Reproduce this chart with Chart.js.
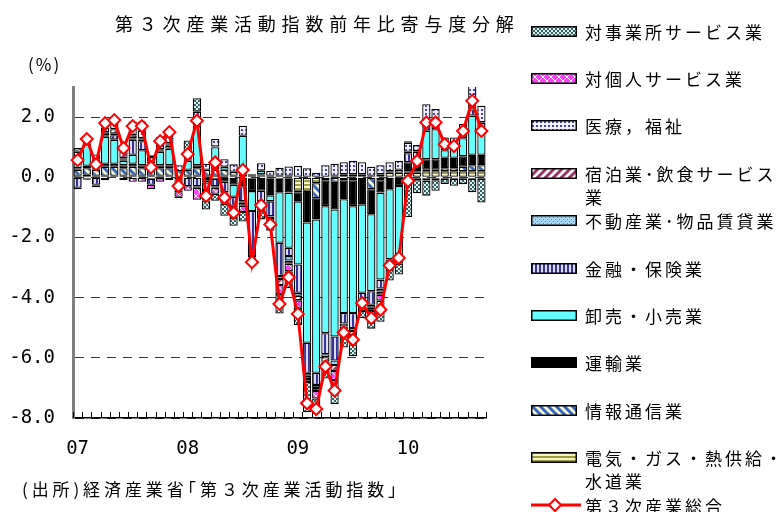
<!DOCTYPE html>
<html lang="ja">
<head>
<meta charset="utf-8">
<script src="https://cdn.jsdelivr.net/npm/chart.js@4.4.1/dist/chart.umd.min.js"></script>
<style>
  html, body { margin: 0; padding: 0; background: #fff; }
  #wrap { position: relative; width: 776px; height: 512px; overflow: hidden; font-family: "Noto Sans CJK JP", sans-serif; color: #000; }
  #chart { position: absolute; left: 0; top: 0; }
  .txt { position: absolute; white-space: nowrap; line-height: 20px; }
  #title { left: 115px; top: 13px; font-size: 18px; letter-spacing: 5.8px; }
  #unit { left: 28px; top: 54px; font-size: 17px; letter-spacing: 2px; }
  #source { left: 22px; top: 479px; font-size: 17px; letter-spacing: 3.9px; }
  .lg { position: absolute; left: 531px; width: 245px; height: 1px; }
  .lg canvas { position: absolute; left: 0; }
  .lg span { position: absolute; left: 54px; font-size: 17px; letter-spacing: 3px; line-height: 23px; white-space: pre; }
</style>
</head>
<body>
<div id="wrap">
  <canvas id="chart" width="776" height="512"></canvas>
  <div id="title" class="txt">第３次産業活動指数前年比寄与度分解</div>
  <div id="unit" class="txt">(%)</div>
  <div id="source" class="txt">(出所)経済産業省｢第３次産業活動指数｣</div>
  <div id="legend"></div>
</div>
<script>
// months 2007-01 .. 2010-09
var months = [];
for (var yr = 2007; yr <= 2010; yr++) {
  for (var mo = 1; mo <= 12; mo++) {
    if (yr === 2010 && mo > 9) break;
    months.push(yr + '-' + (mo < 10 ? '0' + mo : mo));
  }
}
var yearLabels = ['07', '08', '09', '10'];

// contributions (% points)
var elec  = [0.05,0.08,0.05,0.05,0.05,0.05,0.05,0.05,0.05,0.05,0.05,0,
             0.05,0.05,0.05,0.05,0.05,0.05,0.08,0.05,0.05,0.05,0.05,0.05,
             -0.45,-0.45,-0.2,0,0.05,0.1,0.1,0.1,0.05,0.1,0.15,0.15,
             0.15,0.15,0.2,0.2,0.2,0.2,0.2,0.2,0.2];
var info  = [0.2,0.22,0.2,0.3,0.3,0.25,0.3,0.25,0.2,0.25,0.25,0.2,
             0.2,0.25,0.2,0.2,0.2,0.13,0.18,-0.05,0.05,-0.05,-0.05,-0.05,
             -0.05,0,-0.5,-0.1,-0.15,-0.1,-0.1,0,-0.4,-0.1,0.05,0.1,
             0.05,0.05,0.05,0.05,0.1,0.1,0.15,0.2,0.2];
var trans = [0.05,0.08,0.05,0.1,0.1,0.1,0.1,0.1,-0.05,0.1,0.1,0,
             0,0.1,-0.1,-0.05,-0.15,-0.25,-0.3,-0.41,-0.45,-0.55,-0.45,-0.46,
             -0.3,-1.05,-0.7,-0.86,-0.92,-0.63,-0.86,-0.9,-0.83,-0.41,-0.4,-0.29,
             0.3,0.35,0.35,0.35,0.35,0.35,0.35,0.35,0.35];
var whole = [0.35,0.75,0.28,0.9,0.8,0.15,0.3,0.5,0.2,0.45,0.55,-0.2,
             0.3,1.3,-0.07,0.75,0.1,-0.4,1.12,-0.66,0.12,-0.2,-1.68,-1.83,
             -2.1,-4.0,-5.1,-4.22,-4.22,-3.78,-3.55,-2.94,-2.56,-2.89,-2.33,-2.33,
             -0.1,0.1,0.95,1.0,0.25,0.35,0.6,1.3,0.9];
var fin   = [-0.35,-0.05,-0.25,-0.1,0.15,0.05,0.5,0.3,-0.2,0,0.1,-0.25,
             -0.3,-0.3,-0.25,-0.25,-0.35,-0.3,-0.5,-1.5,-0.35,-0.5,-1.1,-0.28,
             -0.94,-1.0,-0.4,-0.7,-0.8,-0.35,-0.5,-0.3,-0.45,-0.3,-0.15,-0.05,
             0.3,0.2,0.15,0.15,0.15,0.1,0.15,0.2,0.15];
var real  = [0.05,0.05,0.03,0.05,0.05,0.03,0.05,0.05,0.02,0.03,0.03,0,
             0.03,0.03,0,0.02,-0.03,-0.05,-0.05,-0.05,-0.05,-0.05,-0.1,-0.15,
             -0.1,-0.1,-0.1,-0.1,-0.15,-0.1,-0.1,-0.05,-0.1,-0.1,-0.05,-0.05,
             0.05,0.02,0.03,0.02,0.02,0.02,0.02,0.04,0.03];
var hotel = [-0.05,0,-0.03,0.1,0.15,0.3,0.1,0.05,0.05,0.05,0.05,-0.05,
             0,-0.05,-0.1,-0.05,-0.1,-0.1,-0.1,-0.05,-0.1,-0.1,-0.2,-0.1,
             -0.15,-0.1,-0.1,-0.15,-0.2,-0.1,-0.14,-0.1,-0.1,-0.1,-0.05,-0.05,
             0,-0.05,-0.05,-0.05,-0.05,-0.05,-0.05,-0.05,-0.05];
var med   = [0.15,0.12,0.15,0.15,0.2,0.15,0.2,0.25,0.15,0.2,0.2,0.2,
             0.25,0.45,0.2,0.25,0.25,0.25,0.33,0.05,0.25,0.16,0.27,0.31,
             0.38,0.3,0.15,0.4,0.4,0.4,0.45,0.4,0.3,0.3,0.3,0.3,
             0.3,0.2,0.7,0.5,0.25,0.2,0.3,0.75,0.55];
var pers  = [0,0.05,-0.05,0,0,-0.1,-0.15,-0.15,-0.15,-0.15,-0.1,-0.15,
             -0.15,-0.4,-0.25,-0.2,-0.25,-0.25,-0.2,-0.1,-0.15,-0.1,-0.3,-0.25,
             -0.25,-0.1,-0.25,-0.2,-0.3,-0.2,-0.3,-0.15,-0.2,-0.2,-0.1,-0.1,
             0.05,-0.05,-0.06,-0.05,0,0,0,0,0];
var biz   = [0.12,-0.03,0,0.25,0.1,0,0.25,0.3,0.06,0.22,0.27,-0.04,
             0.39,0.45,-0.3,-0.23,-0.4,-0.26,-0.32,-0.1,-0.3,-0.23,-0.65,-0.56,
             -0.58,-1.01,-0.5,-0.36,-0.8,-0.4,-0.4,-0.24,-0.39,-0.7,-0.35,-0.36,
             -1.22,-0.43,-0.5,-0.35,-0.17,-0.23,-0.18,-0.45,-0.79];
var total = [0.57,1.27,0.43,1.8,1.9,0.97,1.7,1.7,0.33,1.2,1.5,-0.29,
             0.77,1.88,-0.62,0.49,-0.68,-1.18,0.24,-2.82,-0.93,-1.57,-4.21,-3.32,
             -4.54,-7.51,-7.7,-6.29,-7.09,-5.16,-5.4,-4.18,-4.68,-4.4,-2.93,-2.68,
             -0.12,0.54,1.82,1.82,1.1,1.04,1.54,2.54,1.54];

// stacking order: first one sits next to zero
var seriesNames = ['電気・ガス・熱供給・水道業', '情報通信業', '運輸業', '卸売・小売業', '金融・保険業',
                   '不動産業･物品賃貸業', '宿泊業･飲食サービス業', '医療，福祉', '対個人サービス業', '対事業所サービス業'];
var seriesValues = [elec, info, trans, whole, fin, real, hotel, med, pers, biz];
var totalName = '第３次産業総合';

// little fill tiles like the excel patterns
function makeTile(i) {
  var c = document.createElement('canvas'), g = c.getContext('2d');
  c.width = 8; c.height = 8;
  if (i === 0) {            // horizontal olive stripes
    g.fillStyle = '#f4f4c8'; g.fillRect(0, 0, 8, 8);
    g.fillStyle = '#9c9c3c'; g.fillRect(0, 0, 8, 2); g.fillRect(0, 4, 8, 2);
  } else if (i === 1) {     // blue / yellow "\\\"
    g.fillStyle = '#ffffc0'; g.fillRect(0, 0, 8, 8);
    g.strokeStyle = '#3366cc'; g.lineWidth = 3;
    g.beginPath(); g.moveTo(-4, -4); g.lineTo(12, 12); g.moveTo(-4, 4); g.lineTo(4, 12); g.moveTo(4, -4); g.lineTo(12, 4); g.stroke();
  } else if (i === 2) {
    g.fillStyle = '#000'; g.fillRect(0, 0, 8, 8);
  } else if (i === 3) {
    g.fillStyle = '#66ffff'; g.fillRect(0, 0, 8, 8);
  } else if (i === 4) {     // vertical navy stripes
    g.fillStyle = '#dcdcff'; g.fillRect(0, 0, 8, 8);
    g.fillStyle = '#333399'; g.fillRect(0, 0, 2, 8); g.fillRect(4, 0, 2, 8);
  } else if (i === 5) {     // light blue dots
    g.fillStyle = '#a8d8f4'; g.fillRect(0, 0, 8, 8);
    g.fillStyle = '#3a8cc4';
    for (var a = 0; a < 8; a += 2) for (var b = (a % 4); b < 8; b += 4) g.fillRect(b, a, 1, 1);
  } else if (i === 6) {     // maroon "///"
    g.fillStyle = '#fff'; g.fillRect(0, 0, 8, 8);
    g.strokeStyle = '#993366'; g.lineWidth = 3;
    g.beginPath(); g.moveTo(-4, 12); g.lineTo(12, -4); g.moveTo(-4, 4); g.lineTo(4, -4); g.moveTo(4, 12); g.lineTo(12, 4); g.stroke();
  } else if (i === 7) {     // lavender with blue dots
    g.fillStyle = '#f0f0ff'; g.fillRect(0, 0, 8, 8);
    g.fillStyle = '#4646aa';
    g.fillRect(1, 1, 2, 2); g.fillRect(5, 1, 2, 2); g.fillRect(1, 5, 2, 2); g.fillRect(5, 5, 2, 2);
  } else if (i === 8) {     // magenta with white lattice
    g.fillStyle = '#ff40ff'; g.fillRect(0, 0, 8, 8);
    g.fillStyle = '#fff';
    for (var k = 0; k < 8; k++) { g.fillRect(k, k, 1, 1); g.fillRect(k, 7 - k, 1, 1); }
  } else {                  // dark teal checker
    g.fillStyle = '#2c6464'; g.fillRect(0, 0, 8, 8);
    g.fillStyle = '#e4f0f0';
    for (var p = 0; p < 8; p += 2) for (var q = 0; q < 8; q += 2) if ((p + q) % 4 === 0) g.fillRect(q, p, 2, 2);
  }
  return c;
}

var ctx = document.getElementById('chart').getContext('2d');

var datasets = seriesValues.map(function(vals, i) {
  return {
    type: 'bar',
    label: seriesNames[i],
    data: vals,
    backgroundColor: ctx.createPattern(makeTile(i), 'repeat'),
    borderColor: '#000',
    borderWidth: 1.3,
    borderSkipped: false,
    categoryPercentage: 0.9,
    barPercentage: 1.0,
    order: 0
  };
});
datasets.push({
  type: 'line',
  label: totalName,
  data: total,
  stack: 'total',
  order: -1,
  borderColor: '#ff0000',
  borderWidth: 3,
  tension: 0,
  pointStyle: 'rectRot',
  pointRadius: 6,
  pointBackgroundColor: '#fff',
  pointBorderColor: '#ff0000',
  pointBorderWidth: 2,
  clip: false
});

// small upward ticks on the bottom axis, one per month boundary
var monthTicks = {
  id: 'monthTicks',
  beforeDatasetsDraw: function(chart) {
    var x = chart.scales.x, g = chart.ctx, n = months.length, step = (x.right - x.left) / n;
    g.save();
    g.strokeStyle = '#000';
    g.lineWidth = 1;
    g.beginPath();
    for (var i = 0; i <= n; i++) {
      var px = Math.round(x.left + i * step) + 0.5;
      g.moveTo(px, x.top);
      g.lineTo(px, x.top - 6);
    }
    g.stroke();
    g.restore();
  }
};

var chart = new Chart(ctx, {
  type: 'bar',
  data: { labels: months, datasets: datasets },
  options: {
    responsive: false,
    animation: false,
    layout: { padding: { top: 87, right: 290, bottom: 54, left: 0 } },
    plugins: {
      legend: { display: false },
      tooltip: { enabled: false }
    },
    scales: {
      x: {
        stacked: true,
        offset: true,
        grid: { display: false, drawTicks: false },
        border: { color: '#000', width: 1.5 },
        ticks: {
          autoSkip: false,
          maxRotation: 0,
          padding: 20,
          color: '#000',
          font: { family: 'DejaVu Sans Mono', size: 19 },
          callback: function(v, i) { return i % 12 === 0 ? yearLabels[i / 12] : ''; }
        },
        afterFit: function(s) { s.height = 40; }
      },
      y: {
        stacked: true,
        min: -8,
        max: 3,
        ticks: {
          stepSize: 2,
          includeBounds: false,
          padding: 18,
          color: '#000',
          font: { family: 'DejaVu Sans Mono', size: 19 },
          callback: function(v) { return v.toFixed(1); }
        },
        grid: { color: '#333', lineWidth: 1, drawTicks: false },
        border: { color: '#808080', width: 3, dash: [9, 7] },
        afterFit: function(s) { s.width = 73; }
      }
    }
  },
  plugins: [monthTicks]
});

// legend on the right, built from the datasets
var legendWrap = {
  '宿泊業･飲食サービス業': '宿泊業･飲食サービス\n業',
  '電気・ガス・熱供給・水道業': '電気・ガス・熱供給・\n水道業'
};
var legendBox = document.getElementById('legend');
var items = chart.data.datasets.slice(0, seriesNames.length).reverse();
items.push(chart.data.datasets[seriesNames.length]);
items.forEach(function(ds, n) {
  var cy = 31 + n * 47.4;
  var div = document.createElement('div');
  div.className = 'lg';
  div.style.top = '0px';
  var cv = document.createElement('canvas');
  var g = cv.getContext('2d');
  if (ds.type === 'line') {
    cv.width = 50; cv.height = 16;
    cv.style.top = (cy - 8) + 'px';
    g.strokeStyle = '#ff0000'; g.lineWidth = 3;
    g.beginPath(); g.moveTo(0, 8); g.lineTo(50, 8); g.stroke();
    g.fillStyle = '#fff'; g.lineWidth = 2;
    g.beginPath(); g.moveTo(24, 2); g.lineTo(30, 8); g.lineTo(24, 14); g.lineTo(18, 8); g.closePath();
    g.fill(); g.stroke();
  } else {
    cv.width = 46; cv.height = 11;
    cv.style.top = (cy - 5.5) + 'px';
    g.fillStyle = g.createPattern(makeTile(seriesNames.indexOf(ds.label)), 'repeat');
    g.fillRect(0, 0, 46, 11);
    g.strokeStyle = '#000'; g.lineWidth = 1.5;
    g.strokeRect(0.75, 0.75, 44.5, 9.5);
  }
  var sp = document.createElement('span');
  sp.textContent = legendWrap[ds.label] || ds.label;
  sp.style.top = (cy - 11.5) + 'px';
  div.appendChild(cv);
  div.appendChild(sp);
  legendBox.appendChild(div);
});
</script>
</body>
</html>
